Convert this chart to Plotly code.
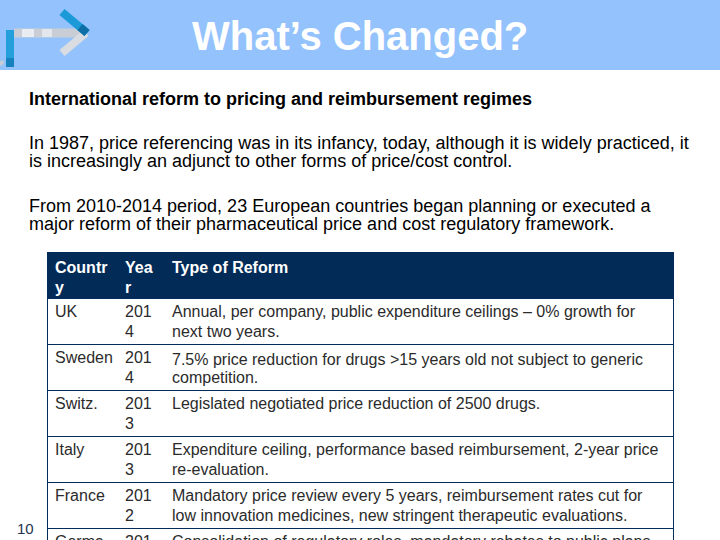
import plotly.graph_objects as go

W, H = 720, 540

# ---------------- data ----------------
title = "What’s Changed?"
subtitle = "International reform to pricing and reimbursement regimes"
para1 = ["In 1987, price referencing was in its infancy, today, although it is widely practiced, it",
         "is increasingly an adjunct to other forms of price/cost control."]
para2 = ["From 2010-2014 period, 23 European countries began planning or executed a",
         "major reform of their pharmaceutical price and cost regulatory framework."]
page_number = "10"

headers = ["Countr<br>y", "Yea<br>r", "Type of Reform"]
countries = ["UK", "Sweden", "Switz.", "Italy", "France", "Germa"]
years = ["201<br>4", "201<br>4", "201<br>3", "201<br>3", "201<br>2", "201"]
reforms = [
    "Annual, per company, public expenditure ceilings – 0% growth for<br>next two years.",
    "7.5% price reduction for drugs &gt;15 years old not subject to generic<br>competition.",
    "Legislated negotiated price reduction of 2500 drugs.",
    "Expenditure ceiling, performance based reimbursement, 2-year price<br>re-evaluation.",
    "Mandatory price review every 5 years, reimbursement rates cut for<br>low innovation medicines, new stringent therapeutic evaluations.",
    "Consolidation of regulatory roles, mandatory rebates to public plans",
]

# ---------------- styles ----------------
NAVY = "#022B57"
BAR = "#93C2FD"
FONT = "Arial, Liberation Sans, sans-serif"
TXT = "#2B2B2B"


def px(x):
    return x / W


def py(y):
    return 1 - y / H


def line_n(s, n):
    parts = s.split("<br>")
    return parts[n] if n < len(parts) else ""


tbl_x = [px(47), px(673)]
row_h = 46
line_gap = 20
text_top = 251

fig = go.Figure()

# grid table (lines + fills)
fig.add_trace(go.Table(
    domain=dict(x=tbl_x, y=[0, py(252)]),
    columnwidth=[1],
    header=dict(values=[""], fill_color=NAVY, line=dict(color=NAVY, width=1), height=row_h),
    cells=dict(values=[[""] * len(countries)], fill_color="white",
               line=dict(color=NAVY, width=1), height=row_h),
))

# text tables: one per text line inside the cells
clear = "rgba(0,0,0,0)"
for n in range(2):
    fig.add_trace(go.Table(
        domain=dict(x=tbl_x, y=[0, py(text_top + n * line_gap)]),
        columnwidth=[70, 47, 509],
        header=dict(values=["<b>%s</b>" % line_n(h, n) if line_n(h, n) else "" for h in headers],
                    align="left", fill_color=clear, line=dict(width=0, color=clear),
                    font=dict(family=FONT, size=16, color="white"), height=row_h),
        cells=dict(values=[[line_n(s, n) for s in col] for col in (countries, years, reforms)],
                   align="left", fill_color=clear, line=dict(width=0, color=clear),
                   font=dict(family=FONT, size=16, color=TXT), height=row_h),
    ))

shapes = []
# title bar
shapes.append(dict(type="rect", xref="paper", yref="paper", x0=0, x1=1, y0=py(70), y1=1,
                   fillcolor=BAR, line=dict(width=0), layer="below"))


def seg(x0, y0, x1, y1, color, width=8):
    shapes.append(dict(type="line", xref="paper", yref="paper", x0=px(x0), y0=py(y0),
                       x1=px(x1), y1=py(y1), line=dict(color=color, width=width)))


# logo
seg(14, 33, 86, 33, "#C9CED6", 9)
seg(22, 33, 34, 33, "#E9EDF2", 8)
seg(42, 33, 52, 33, "#E3E7EC", 8)
seg(86, 33, 62, 53, "#D9DCE1", 8)
seg(62, 12, 87, 33, "#1C9AD8", 8)
seg(80, 27, 87, 33, "#0E6FA6", 8)
seg(10, 30, 10, 67, "#23A0DC", 8)
seg(10, 58, 10, 67, "#1681BC", 8)
seg(0, 62, 3, 64, "#C9CED6", 5)

annotations = [
    dict(text="<b>%s</b>" % title, x=px(360), y=py(36), xref="paper", yref="paper",
         showarrow=False, xanchor="center", yanchor="middle",
         font=dict(family=FONT, size=40, color="white")),
    dict(text="<b>%s</b>" % subtitle, x=px(27), y=py(99), xref="paper", yref="paper",
         showarrow=False, xanchor="left", yanchor="middle",
         font=dict(family=FONT, size=18, color="black")),
    dict(text=page_number, x=px(25), y=py(528), xref="paper", yref="paper",
         showarrow=False, xanchor="center", yanchor="middle",
         font=dict(family=FONT, size=15, color="#1F3450")),
]
for lines, y0 in ((para1, 143), (para2, 206)):
    for i, line in enumerate(lines):
        annotations.append(dict(text=line, x=px(27), y=py(y0 + 18 * i), xref="paper", yref="paper",
                                showarrow=False, xanchor="left", yanchor="middle",
                                font=dict(family=FONT, size=18, color="black")))

fig.update_layout(
    width=W, height=H, margin=dict(l=0, r=0, t=0, b=0),
    paper_bgcolor="white", plot_bgcolor="white",
    shapes=shapes, annotations=annotations, showlegend=False,
)

fig.write_html("out.html", config={"displayModeBar": False},
               post_script="document.body.style.margin='0px';")
